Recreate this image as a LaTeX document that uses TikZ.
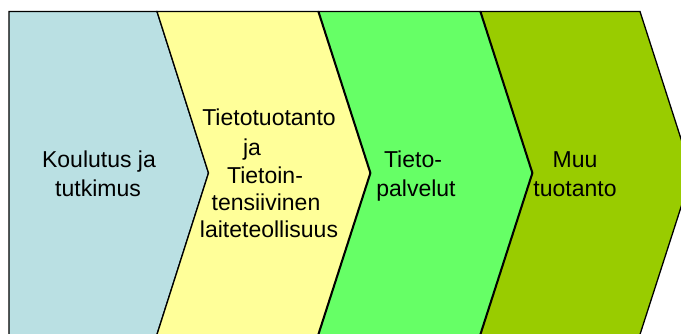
\documentclass[tikz,border=0pt]{standalone}
\usepackage{fontspec}
\setmainfont{Liberation Sans}
\definecolor{cblue}{RGB}{186,224,227}
\definecolor{cyellow}{RGB}{255,255,153}
\definecolor{cgreen}{RGB}{102,255,102}
\definecolor{colive}{RGB}{153,204,0}
\tikzset{
  chev/.style={draw=black, line width=1.3pt, line join=miter},
  lbl/.style={anchor=base, inner sep=0pt, font=\fontsize{23}{27}\selectfont, text=black}
}
\begin{document}
\begin{tikzpicture}[x=1pt, y=-1pt]
\useasboundingbox (0,0) rectangle (681,334);
\begin{scope}
\clip (0,0) rectangle (681,334);
% chevrons (lower edges run on below the picture's edge)
\path[chev, fill=cblue]   (9,11.5) -- (157,11.5) -- (208.5,173) -- (155.2,340) -- (9,340) -- cycle;
\path[chev, fill=cyellow] (157,11.5) -- (318,11.5) -- (370,173) -- (316.2,340) -- (155.2,340) -- (208.5,173) -- cycle;
\path[chev, fill=cgreen]  (318.8,11.5) -- (480,11.5) -- (532,173) -- (478.2,340) -- (317,340) -- (370.8,173) -- cycle;
\path[chev, fill=colive]  (480.8,11.5) -- (640,11.5) -- (692,173) -- (638.2,340) -- (479,340) -- (532.8,173) -- cycle;
\end{scope}
% labels
\node[lbl] (b1) at (99,168) {Koulutus ja};
\node[lbl] (b2) at (98,197) {tutkimus};
\node[lbl] (y1) at (269,125.5) {Tietotuotanto};
\node[lbl] (y2) at (252,156) {ja};
\node[lbl] (y3) at (265,184) {Tietoin-};
\node[lbl] (y4) at (266,211) {tensiivinen};
\node[lbl] (y5) at (269,238) {laiteteollisuus};
\node[lbl] (g1) at (413,168) {Tieto-};
\node[lbl] (g2) at (416,197) {palvelut};
\node[lbl] (o1) at (575,168) {Muu};
\node[lbl] (o2) at (575,197) {tuotanto};
\end{tikzpicture}
\end{document}
